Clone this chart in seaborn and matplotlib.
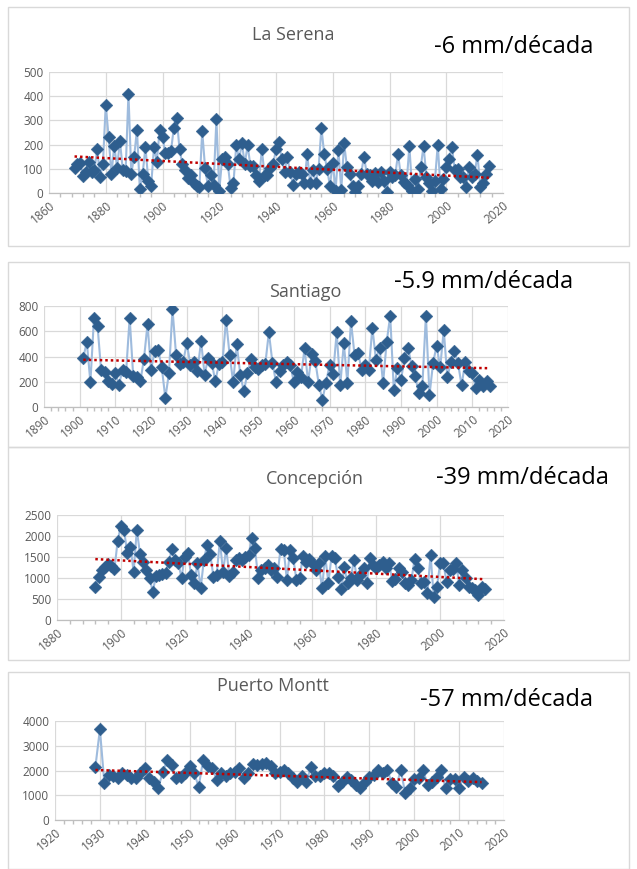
import numpy as np
import pandas as pd
import matplotlib
matplotlib.use("Agg")
import matplotlib.pyplot as plt
from matplotlib.patches import Rectangle
from matplotlib.ticker import MultipleLocator
import seaborn as sns

sns.set_theme(style="white")
plt.rcParams['font.family'] = ['Open Sans', 'DejaVu Sans']

# ---------------- data ----------------
stations = ["La Serena", "Santiago", "Concepción", "Puerto Montt"]
trend_labels = ["-6 mm/década", "-5.9 mm/década", "-39 mm/década", "-57 mm/década"]

serena_start = 1869
serena_vals = [104, 120, 125, 70, 85, 130, 85, 95, 180, 68,
               120, 365, 232, 78, 195, 105, 215, 95, 90, 410,
               80, 150, 262, 18, 80, 190, 50, 30, 190, 130,
               262, 230, 165, 165, 175, 270, 310, 180, 120, 95,
               60, 73, 40, 30, 25, 255, 105, 28, 73, 35,
               305, 8, 140, 150, 120, 22, 40, 198, 140, 205,
               120, 198, 110, 110, 73, 50, 180, 73, 73, 105,
               120, 180, 210, 142, 88, 148, 85, 35, 80, 88,
               80, 40, 162, 42, 93, 42, 100, 270, 160, 100,
               30, 125, 10, 177, 12, 205, 108, 80, 30, 5,
               30, 80, 150, 80, 73, 50, 83, 45, 88, 48,
               5, 88, 68, 73, 160, 73, 45, 35, 195, 10,
               58, 18, 108, 195, 68, 40, 10, 50, 200, 18,
               58, 108, 142, 190, 95, 100, 68, 68, 25, 108,
               68, 80, 158, 25, 40, 80, 112]

santiago_start = 1901
santiago_vals = [392, 513, 195, 702, 642, 290, 275, 208, 180, 268,
                 176, 295, 276, 708, 242, 234, 203, 380, 655, 295,
                 440, 453, 313, 70, 268, 775, 413, 340, 360, 505,
                 335, 360, 282, 524, 255, 392, 352, 203, 340, 355,
                 690, 413, 197, 497, 255, 124, 268, 382, 313, 300,
                 334, 340, 592, 352, 197, 287, 334, 355, 334, 197,
                 276, 234, 465, 195, 418, 366, 176, 58, 190, 334,
                 260, 592, 171, 505, 190, 681, 413, 426, 295, 334,
                 295, 629, 374, 471, 190, 513, 724, 137, 308, 210,
                 387, 471, 326, 242, 110, 163, 724, 92, 347, 487,
                 313, 610, 234, 355, 440, 347, 171, 355, 282, 268,
                 150, 216, 163, 203, 163]

concep_start = 1892
concep_vals = [778, 1032, 1190, 1254, 1333, 1286, 1214, 1889, 2238, 2143,
               1587, 1746, 1150, 2150, 1570, 1390, 1190, 990, 675, 1048,
               1070, 1095, 1110, 1390, 1680, 1430, 1350, 1008, 1508, 1603,
               1071, 873, 1350, 754, 1430, 1786, 1563, 1032, 1071, 1889,
               1150, 1706, 1048, 1150, 1430, 1468, 1430, 1492, 1548,
               1944, 1706, 1008, 1190, 1230, 1310, 1190, 1230, 1032,
               1690, 1667, 952, 1667, 1468, 952, 992, 1524, 1390, 1444,
               1350, 1190, 1350, 754, 1524, 889, 1524, 1468, 1032, 730,
               1254, 873, 992, 1430, 952, 1071, 1230, 873, 1468, 1310,
               1230, 1310, 1390, 1230, 1365, 929, 968, 1230, 1150,
               889, 833, 952, 1452, 1230, 873, 913, 635, 1548,
               556, 794, 1350, 1350, 913, 1190, 1206, 1350, 833,
               1190, 992, 794, 754, 714, 595, 794, 738]

montt_start = 1929
montt_vals = [2150, 3660, 1480, 1820, 1780, 1680, 1880, 1820, 1680, 1680,
              1880, 2090, 1680, 1550, 1280, 1950, 2420, 2220, 1680, 1750,
              1880, 2180, 1880, 1350, 2420, 2180, 2120, 1620, 1880, 1780,
              1880, 1950, 2120, 1680, 1880, 2260, 2220, 2260, 2290, 2180,
              1880, 1950, 2020, 1880, 1680, 1550, 1780, 1550, 2150, 1780,
              1780, 1880, 1880, 1780, 1370, 1550, 1750, 1620, 1410, 1280,
              1550, 1750, 1820, 2020, 1910, 2020, 1510, 1350, 2020, 1080,
              1280, 1640, 1680, 2020, 1410, 1550, 1750, 2020, 1280, 1640,
              1640, 1310, 1720, 1590, 1680, 1590, 1480]

# linear trend end values (start year value, end year value)
trend_start_vals = [151, 374, 1450, 2020]
trend_end_vals = [63, 307, 970, 1530]

x_limits = [(1860, 2020), (1890, 2020), (1880, 2020), (1920, 2020)]
x_steps = [20, 10, 20, 10]
y_limits = [(0, 500), (0, 800), (0, 2500), (0, 4000)]
y_steps = [100, 200, 500, 1000]

series = [(serena_start, serena_vals), (santiago_start, santiago_vals),
          (concep_start, concep_vals), (montt_start, montt_vals)]

# ---------------- layout ----------------
W, H = 637, 869
fig = plt.figure(figsize=(W / 100, H / 100), dpi=100)
fig.patch.set_facecolor("white")

def fx(px):
    return px / W

def fy(py):
    return 1 - py / H

# plot areas in pixel coords: (left, right, top, bottom)
areas = [(49, 503, 72, 193), (44, 508, 306, 407), (57, 504, 515, 620), (55, 504, 721, 820)]
# panel boxes (left, top, right, bottom)
boxes = [(8, 7, 629, 246), (8, 262, 629, 447), (8, 447, 629, 660), (8, 672, 629, 869)]
title_pos = [(293, 35), (305, 292), (315, 479), (273, 686)]
annot_pos = [(514, 47), (484, 282), (522, 478), (506, 700)]

for (l, t, r, b) in boxes:
    fig.patches.append(Rectangle((fx(l), fy(b)), fx(r - l), fy(t) - fy(b),
                                 transform=fig.transFigure, fill=False,
                                 edgecolor="#D9D9D9", linewidth=1.0))

marker_color = "#2E5E8E"
line_color = "#9EBBDD"
grid_color = "#D9D9D9"
text_gray = "#595959"

for i, (start, vals) in enumerate(series):
    l, r, t, b = areas[i]
    ax = fig.add_axes([fx(l), fy(b), fx(r - l), fy(t) - fy(b)])
    years = np.arange(start, start + len(vals))
    df = pd.DataFrame({"year": years, "mm": vals})

    sns.lineplot(data=df, x="year", y="mm", ax=ax, color=line_color,
                 linewidth=1.5, zorder=2)
    sns.scatterplot(data=df, x="year", y="mm", ax=ax, marker="D",
                    s=42, color=marker_color, edgecolor=marker_color,
                    linewidth=0.3, zorder=3)
    tdf = pd.DataFrame({"year": [years[0], years[-1]],
                        "mm": [trend_start_vals[i], trend_end_vals[i]]})
    sns.lineplot(data=tdf, x="year", y="mm", ax=ax, color="#C00000",
                 linewidth=1.8, linestyle=(0, (1, 1.2)), zorder=4)

    ax.set_xlim(*x_limits[i])
    ax.set_ylim(*y_limits[i])
    ax.xaxis.set_major_locator(MultipleLocator(x_steps[i]))
    ax.xaxis.set_minor_locator(MultipleLocator(x_steps[i] / 5 if x_steps[i] == 20 else 2))
    ax.yaxis.set_major_locator(MultipleLocator(y_steps[i]))
    ax.grid(True, which="major", color=grid_color, linewidth=0.9)
    ax.set_axisbelow(True)
    for s in ["top", "right", "left"]:
        ax.spines[s].set_visible(False)
    ax.spines["bottom"].set_color("#BFBFBF")
    ax.spines["bottom"].set_linewidth(0.9)
    ax.set_xlabel("")
    ax.set_ylabel("")
    ax.tick_params(axis="x", which="major", length=0, labelsize=8.5,
                   labelcolor=text_gray, pad=4)
    ax.tick_params(axis="x", which="minor", length=3, color="#BFBFBF",
                   direction="out", bottom=True)
    ax.tick_params(axis="y", length=0, labelsize=8.5, labelcolor=text_gray, pad=4)
    for lab in ax.get_xticklabels():
        lab.set_rotation(40)
        lab.set_ha("right")
        lab.set_rotation_mode("anchor")
    ax.set_facecolor("white")
    ax.margins(0)

    tx, ty = title_pos[i]
    fig.text(fx(tx), fy(ty), stations[i], ha="center", va="center",
             fontsize=13, color=text_gray)
    axx, ayy = annot_pos[i]
    fig.text(fx(axx), fy(ayy), trend_labels[i], ha="center", va="center",
             fontsize=17, color="black")

fig.savefig("out.png", dpi=100, facecolor="white")
